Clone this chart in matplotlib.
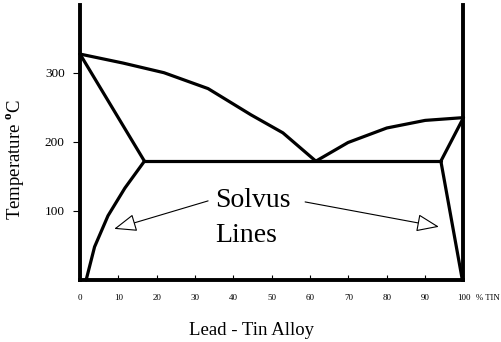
import matplotlib
matplotlib.use("Agg")
import matplotlib.pyplot as plt
from matplotlib.patches import FancyArrowPatch

plt.rcParams['font.family'] = ['Liberation Serif', 'DejaVu Serif']
plt.rcParams['mathtext.fontset'] = 'custom'
plt.rcParams['mathtext.rm'] = 'Liberation Serif'
plt.rcParams['mathtext.bf'] = 'Liberation Serif:bold'

# Liquidus (left branch), % tin vs temperature
liq_left_x = [0, 11.2, 21.9, 33.4, 44.6, 52.9, 61.5]
liq_left_t = [327, 314, 300, 277, 239, 213, 172]
# Liquidus (right branch)
liq_right_x = [61.5, 69.9, 80.0, 90.0, 100.0]
liq_right_t = [172, 199, 220, 231, 235]
# Solidus (left)
sol_left_x = [0, 16.8]
sol_left_t = [327, 172]
# Eutectic line
eut_x = [16.8, 94.1]
eut_t = [172, 172]
# Solidus (right)
sol_right_x = [94.1, 100.0]
sol_right_t = [172, 235]
# Solvus (left)
solv_left_x = [16.8, 11.7, 7.3, 3.8, 1.6]
solv_left_t = [172, 133, 93, 48, 0]
# Solvus (right)
solv_right_x = [94.1, 99.7]
solv_right_t = [172, 0]

x_ticks = [0, 10, 20, 30, 40, 50, 60, 70, 80, 90, 100]
y_ticks = [100, 200, 300]

# Arrow annotations: (tail, tip) in data coords
arrow_left = ((33.4, 114.5), (8.9, 74))
arrow_right = ((58.7, 113), (93.6, 77))

fig = plt.figure(figsize=(5.02, 3.42), dpi=100)
ax = fig.add_axes([80/502, 62/342, 383.5/502, 275/342])

lw = 2.3
for xs, ts in [(liq_left_x, liq_left_t), (liq_right_x, liq_right_t),
               (sol_left_x, sol_left_t), (eut_x, eut_t),
               (sol_right_x, sol_right_t), (solv_left_x, solv_left_t),
               (solv_right_x, solv_right_t)]:
    ax.plot(xs, ts, color='black', lw=lw, solid_capstyle='round', clip_on=False)

ax.set_xlim(0, 100)
ax.set_ylim(0, 398)

ax.spines['top'].set_visible(False)
for s in ['left', 'bottom', 'right']:
    ax.spines[s].set_linewidth(2.8)

ax.set_xticks(x_ticks)
ax.set_xticklabels([str(v) for v in x_ticks], fontsize=6.5)
ax.tick_params(axis='x', direction='in', length=3.6, width=0.8, pad=10)
ax.set_yticks(y_ticks)
ax.set_yticklabels([str(v) for v in y_ticks], fontsize=9.5)
ax.tick_params(axis='y', direction='out', length=5, width=0.8, pad=6)

ax.text(1.033, -0.065, '% TIN', transform=ax.transAxes, fontsize=6.3,
        ha='left', va='center')
ax.text(0.447, -0.182, 'Lead - Tin Alloy', transform=ax.transAxes,
        fontsize=13.5, ha='center', va='center')
ax.set_ylabel(r'Temperature $^{\mathbf{o}}$C', fontsize=13.5)
ax.yaxis.set_label_coords(-0.14, 0.44)

ax.text(35.2, 106, 'Solvus', fontsize=20, ha='left', va='baseline')
ax.text(35.2, 55, 'Lines', fontsize=20, ha='left', va='baseline')

for tail, tip in [arrow_left, arrow_right]:
    ar = FancyArrowPatch(tail, tip, arrowstyle='-|>,head_length=14,head_width=5.5',
                         mutation_scale=1, shrinkA=0, shrinkB=0,
                         facecolor='white', edgecolor='black', lw=0.8)
    ax.add_patch(ar)

fig.savefig('out.png', dpi=100)
